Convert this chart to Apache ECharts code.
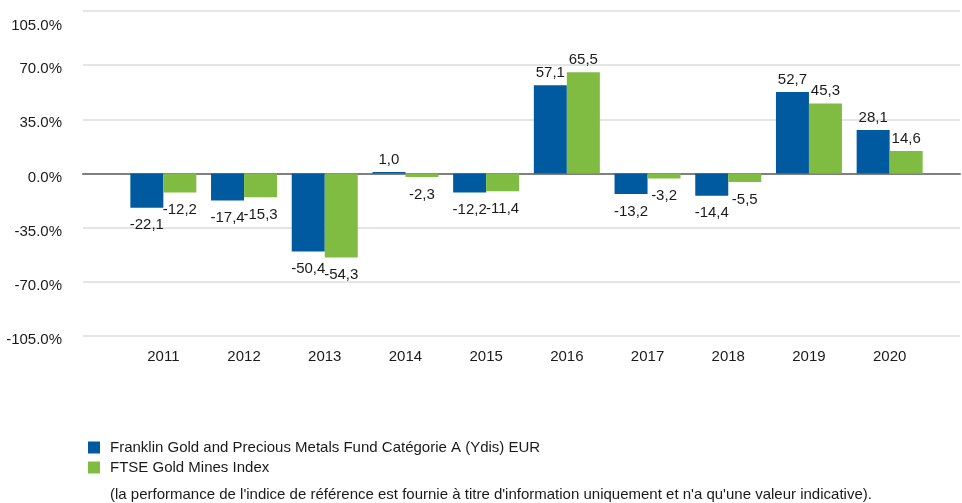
<!DOCTYPE html>
<html>
<head>
<meta charset="utf-8">
<script src="https://cdn.jsdelivr.net/npm/echarts@6/dist/echarts.min.js"></script>
<style>
  html, body { margin: 0; padding: 0; background: #fff; }
  #main { width: 962px; height: 503px; }
</style>
</head>
<body>
<div id="main"></div>
<script>
const years = ['2011', '2012', '2013', '2014', '2015', '2016', '2017', '2018', '2019', '2020'];
const fund = [-22.1, -17.4, -50.4, 1.0, -12.2, 57.1, -13.2, -14.4, 52.7, 28.1];
const index = [-12.2, -15.3, -54.3, -2.3, -11.4, 65.5, -3.2, -5.5, 45.3, 14.6];
const fundName = 'Franklin Gold and Precious Metals Fund Catégorie A (Ydis) EUR';
const indexName = 'FTSE Gold Mines Index';
const note = "(la performance de l'indice de référence est fournie à titre d'information uniquement et n'a qu'une valeur indicative).";

const font = "'Liberation Sans', Arial, sans-serif";
const fs = 15;

const chart = echarts.init(document.getElementById('main'));

// each bar gets its label above or below depending on sign
const toItems = (arr) => arr.map(v => ({
  value: v,
  label: v >= 0
    ? { position: 'top', distance: 5 }
    : { position: 'bottom', distance: 10 }
}));

const labelStyle = {
  show: true,
  fontFamily: font,
  fontSize: fs,
  color: '#1a1a1a',
  formatter: p => p.value.toFixed(1).replace('.', ',')
};

chart.setOption({
  animation: false,
  textStyle: { fontFamily: font },
  grid: [
    { left: 83, right: 2, top: 11, bottom: 167 },
    { left: 123, right: 32, top: 11, bottom: 167 }
  ],
  xAxis: [
    {
      gridIndex: 0, type: 'value', min: 0, max: 1,
      axisLine: { show: true, onZero: true, lineStyle: { color: '#808080', width: 2 } },
      axisTick: { show: false }, axisLabel: { show: false }, splitLine: { show: false }
    },
    {
      gridIndex: 1, type: 'category', data: years,
      axisLine: { show: false, onZero: false },
      axisTick: { show: false },
      axisLabel: { margin: 13, fontFamily: font, fontSize: fs, color: '#1a1a1a' }
    }
  ],
  yAxis: [
    {
      gridIndex: 0, type: 'value', min: -105, max: 105, interval: 35,
      axisLine: { show: false }, axisTick: { show: false },
      splitLine: { lineStyle: { color: '#dcdcdc', width: 1.5 } },
      axisLabel: {
        margin: 21, fontFamily: font, fontSize: fs, color: '#1a1a1a',
        formatter: v => v === 105 ? '{top|105.0%}' : '{n|' + v.toFixed(1) + '%}',
        rich: {
          n: { fontFamily: font, fontSize: fs, color: '#1a1a1a', padding: [8, 0, 0, 0] },
          top: { fontFamily: font, fontSize: fs, color: '#1a1a1a', padding: [30, 0, 0, 0] }
        }
      }
    },
    {
      gridIndex: 1, type: 'value', min: -105, max: 105, interval: 35,
      show: false, splitLine: { show: false }
    }
  ],
  legend: {
    orient: 'vertical', left: 83, top: 435,
    itemWidth: 12, itemHeight: 12, itemGap: 5, icon: 'rect',
    textStyle: { fontFamily: font, fontSize: fs, color: '#1a1a1a', padding: [0, 0, 0, 5] },
    data: [fundName, indexName]
  },
  graphic: [{
    type: 'text', left: 110, top: 487,
    style: { text: note, font: fs + 'px ' + font, fill: '#1a1a1a' }
  }],
  series: [
    {
      name: fundName, type: 'bar', xAxisIndex: 1, yAxisIndex: 1,
      data: toItems(fund), barWidth: 33, barGap: '0%',
      itemStyle: { color: '#005a9f' }, label: labelStyle
    },
    {
      name: indexName, type: 'bar', xAxisIndex: 1, yAxisIndex: 1,
      data: toItems(index), barWidth: 33, barGap: '0%',
      itemStyle: { color: '#80bc41' }, label: labelStyle
    }
  ]
});
</script>
</body>
</html>
